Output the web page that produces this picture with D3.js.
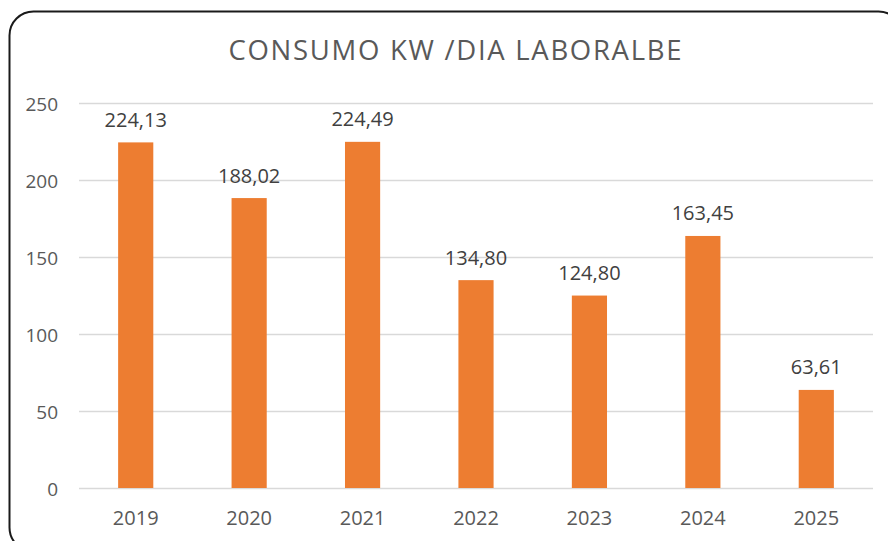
<!DOCTYPE html>
<html>
<head>
<meta charset="utf-8">
<script src="https://cdn.jsdelivr.net/npm/d3@7"></script>
<style>
  body { margin: 0; background: #fff; }
  svg { display: block; }
</style>
</head>
<body>
<script>
let width = 888;
let height = 541;

// chart data
let years = ["2019", "2020", "2021", "2022", "2023", "2024", "2025"];
let consumo = [224.13, 188.02, 224.49, 134.80, 124.80, 163.45, 63.61];
let yTicks = [0, 50, 100, 150, 200, 250];

let fmt = (v) => v.toFixed(2).replace(".", ",");
let font = "Open Sans, sans-serif";

let svg = d3
  .select("body")
  .append("svg")
  .attr("width", width)
  .attr("height", height);

// frame (runs off the right edge like the screenshot)
svg
  .append("rect")
  .attr("x", 9.5)
  .attr("y", 11.5)
  .attr("width", 893)
  .attr("height", 540)
  .attr("rx", 24)
  .attr("fill", "#fff")
  .attr("stroke", "#1a1a1a")
  .attr("stroke-width", 2);

let x = d3.scaleBand().domain(years).range([79, 873]).paddingInner(0.69).paddingOuter(0.345);
let y = d3.scaleLinear().domain([0, 250]).range([488, 102.5]);

// title
svg
  .append("text")
  .attr("x", 455)
  .attr("y", 60)
  .attr("text-anchor", "middle")
  .attr("font-family", font)
  .attr("font-size", 27.5)
  .attr("fill", "#595959")
  .attr("textLength", 453)
  .attr("lengthAdjust", "spacing")
  .text("CONSUMO KW /DIA LABORALBE");

// gridlines
svg
  .append("g")
  .selectAll("line")
  .data(yTicks)
  .join("line")
  .attr("x1", 79)
  .attr("x2", 873)
  .attr("y1", (d) => Math.round(y(d)) + 0.5)
  .attr("y2", (d) => Math.round(y(d)) + 0.5)
  .attr("stroke", "#d9d9d9")
  .attr("stroke-width", 1.5);

// y axis labels
let yAxis = svg
  .append("g")
  .attr("transform", "translate(58,0)")
  .call(d3.axisLeft(y).tickValues(yTicks).tickSize(0).tickPadding(0));
yAxis.select(".domain").remove();
yAxis
  .selectAll("text")
  .attr("dy", null)
  .attr("y", 7.5)
  .attr("font-family", font)
  .attr("font-size", 19)
  .attr("fill", "#595959");

// x axis labels
let xAxis = svg
  .append("g")
  .attr("transform", "translate(0,488)")
  .call(d3.axisBottom(x).tickSize(0));
xAxis.select(".domain").remove();
xAxis
  .selectAll("text")
  .attr("dy", null)
  .attr("y", 37)
  .attr("font-family", font)
  .attr("font-size", 20)
  .attr("fill", "#595959");

// bars
svg
  .append("g")
  .selectAll("rect")
  .data(consumo)
  .join("rect")
  .attr("x", (d, i) => x(years[i]))
  .attr("width", x.bandwidth())
  .attr("y", (d) => y(d))
  .attr("height", (d) => y(0) - y(d))
  .attr("fill", "#ed7d31");

// value labels
svg
  .append("g")
  .selectAll("text")
  .data(consumo)
  .join("text")
  .attr("x", (d, i) => x(years[i]) + x.bandwidth() / 2)
  .attr("y", (d) => y(d) - 15.5)
  .attr("text-anchor", "middle")
  .attr("font-family", font)
  .attr("font-size", 20)
  .attr("fill", "#404040")
  .text((d) => fmt(d));
</script>
</body>
</html>
